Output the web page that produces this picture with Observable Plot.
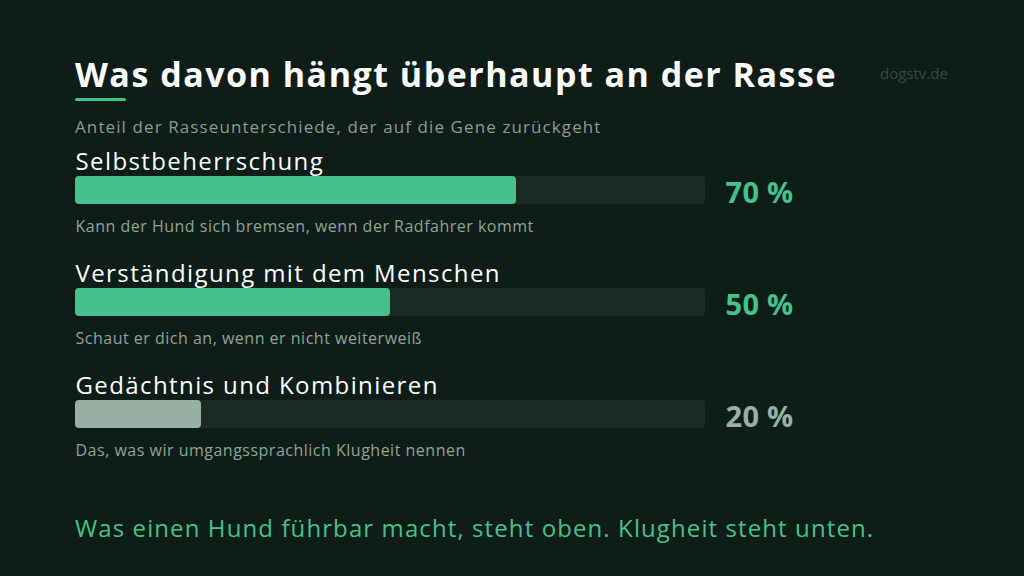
<!DOCTYPE html>
<html>
<head>
<meta charset="utf-8">
<script src="https://cdn.jsdelivr.net/npm/d3@7"></script>
<script src="https://cdn.jsdelivr.net/npm/@observablehq/plot@0.6"></script>
<style>
  html, body { margin: 0; padding: 0; background: #0f1d18; }
  #page { position: relative; width: 1024px; height: 576px; overflow: hidden; background: #0f1d18; font-family: "Open Sans", "Noto Sans", sans-serif; }
  #title { position: absolute; left: 75px; top: 51px; font-size: 34px; font-weight: 700; color: #ffffff; white-space: nowrap; letter-spacing: 1.5px; }
  #accent { position: absolute; left: 75px; top: 98px; width: 51px; height: 3px; background: #45c28b; border-radius: 2px; }
  #brand { position: absolute; left: 880px; top: 63px; font-size: 15px; color: #2e4d3f; }
  #subtitle { position: absolute; left: 75px; top: 115px; font-size: 17px; color: #8a9c92; white-space: nowrap; letter-spacing: 1.1px; }
  #chart { position: absolute; left: 0; top: 140px; }
  #footer { position: absolute; left: 75px; top: 511px; font-size: 24px; color: #45c28b; white-space: nowrap; letter-spacing: 1.1px; }
</style>
</head>
<body>
<div id="page">
  <div id="title">Was davon hängt überhaupt an der Rasse</div>
  <div id="accent"></div>
  <div id="brand">dogstv.de</div>
  <div id="subtitle">Anteil der Rasseunterschiede, der auf die Gene zurückgeht</div>
  <div id="chart"></div>
  <div id="footer">Was einen Hund führbar macht, steht oben. Klugheit steht unten.</div>
</div>
<script>
const categories = ["Selbstbeherrschung", "Verständigung mit dem Menschen", "Gedächtnis und Kombinieren"];
const values = [70, 50, 20];
const notes = [
  "Kann der Hund sich bremsen, wenn der Radfahrer kommt",
  "Schaut er dich an, wenn er nicht weiterweiß",
  "Das, was wir umgangssprachlich Klugheit nennen"
];
const maxValue = 100;

const data = categories.map((c, i) => ({category: c, value: values[i], note: notes[i]}));
const GREEN = "#45c28b", GREY = "#97b0a3", TRACK = "#1a2b24";
const tone = d => d.value >= 50 ? GREEN : GREY;

const chart = Plot.plot({
  width: 1024,
  height: 340,
  marginLeft: 75,
  marginRight: 319,
  marginTop: 0,
  marginBottom: 0,
  style: {background: "transparent", fontFamily: "'Open Sans', 'Noto Sans', sans-serif", overflow: "visible"},
  x: {domain: [0, maxValue], axis: null},
  y: {domain: categories, range: [2.4, 321.6], paddingInner: 0.75, paddingOuter: 0.3, align: 0.5, axis: null},
  color: {type: "identity"},
  marks: [
    Plot.barX(data, {y: "category", x1: () => 0, x2: () => maxValue, fill: TRACK, rx: 4}),
    Plot.barX(data, {y: "category", x: "value", fill: tone, rx: 4}),
    Plot.text(data, {y: "category", x: 0, text: "category", textAnchor: "start", lineAnchor: "middle", dy: -28, fontSize: 24, fill: "#ffffff"}),
    Plot.text(data, {y: "category", x: 0, text: "note", textAnchor: "start", lineAnchor: "middle", dy: 36, fontSize: 16, fill: "#8fa398"}),
    Plot.text(data, {y: "category", x: maxValue, text: d => d.value + " %", textAnchor: "start", lineAnchor: "middle", dx: 20, dy: 3, fontSize: 29, fontWeight: 700, fill: tone})
  ]
});
const textGroups = chart.querySelectorAll("g[aria-label='text']");
const spacing = ["1.4px", "0.5px", "0.3px"];
textGroups.forEach((g, i) => g.style.letterSpacing = spacing[i] || "0");
document.getElementById("chart").appendChild(chart);
</script>
</body>
</html>
